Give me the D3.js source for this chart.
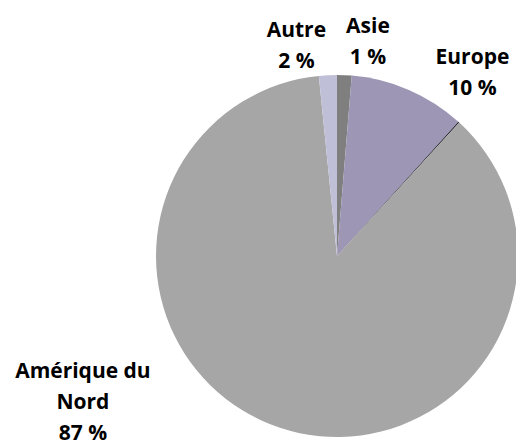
<!DOCTYPE html>
<html>
<head>
<meta charset="utf-8">
<script src="https://cdn.jsdelivr.net/npm/d3@7"></script>
<style>
    body { margin: 0; background: #fff; }
    #chart { width: 516px; height: 445px; }
</style>
</head>
<body>
<div id="chart"></div>
<script>
// data, clockwise from 12 o'clock
let regions = ["Asie", "Europe", "Afrique", "Amérique du Nord", "Autre"];
let shares = [1.3, 10.4, 0.1, 86.6, 1.6];
let labelLines = [["Asie"], ["Europe"], [], ["Amérique du", "Nord"], ["Autre"]];

let colors = ["#7f7f7f", "#9d96b4", "#1c1c28", "#a6a6a6", "#bfc0d8"];

// where each label block sits, relative to the pie centre (angle from top, distance)
let labelPolar = {
    "Asie": [7.9, 225],
    "Europe": [35.2, 235],
    "Amérique du Nord": [-115.7, 282],
    "Autre": [-10.5, 223]
};

let vis = {};
vis.width = 516;
vis.height = 445;
vis.cx = 337;
vis.cy = 256;
vis.radius = 181;
vis.lineH = 31;

vis.svg = d3.select("#chart").append("svg")
    .attr("width", vis.width)
    .attr("height", vis.height);

vis.g = vis.svg.append("g")
    .attr("transform", "translate(" + vis.cx + "," + vis.cy + ")");

let data = regions.map((r, i) => ({region: r, value: shares[i], lines: labelLines[i], color: colors[i]}));

vis.pie = d3.pie().sort(null).value(d => d.value);
vis.arc = d3.arc().innerRadius(0).outerRadius(vis.radius);

let arcs = vis.pie(data);

vis.g.selectAll(".slice")
    .data(arcs)
    .enter()
    .append("path")
    .attr("class", "slice")
    .attr("d", vis.arc)
    .attr("fill", d => d.data.color);

let fmt = v => Math.round(v) + " %";

let labels = vis.g.selectAll(".lbl")
    .data(arcs.filter(d => d.data.lines.length > 0))
    .enter()
    .append("text")
    .attr("class", "lbl")
    .attr("text-anchor", "middle")
    .style("font-family", "'Open Sans', sans-serif")
    .style("font-weight", "bold")
    .style("font-size", "21px")
    .attr("fill", "#000")
    .attr("transform", function(d) {
        let p = labelPolar[d.data.region];
        let a = p[0] * Math.PI / 180;
        return "translate(" + (Math.sin(a) * p[1]) + "," + (-Math.cos(a) * p[1]) + ")";
    });

labels.each(function(d) {
    let t = d3.select(this);
    let lines = d.data.lines.concat([fmt(d.data.value)]);
    lines.forEach((s, i) => {
        t.append("tspan")
            .attr("x", 0)
            .attr("y", i * vis.lineH)
            .text(s);
    });
});
</script>
</body>
</html>
